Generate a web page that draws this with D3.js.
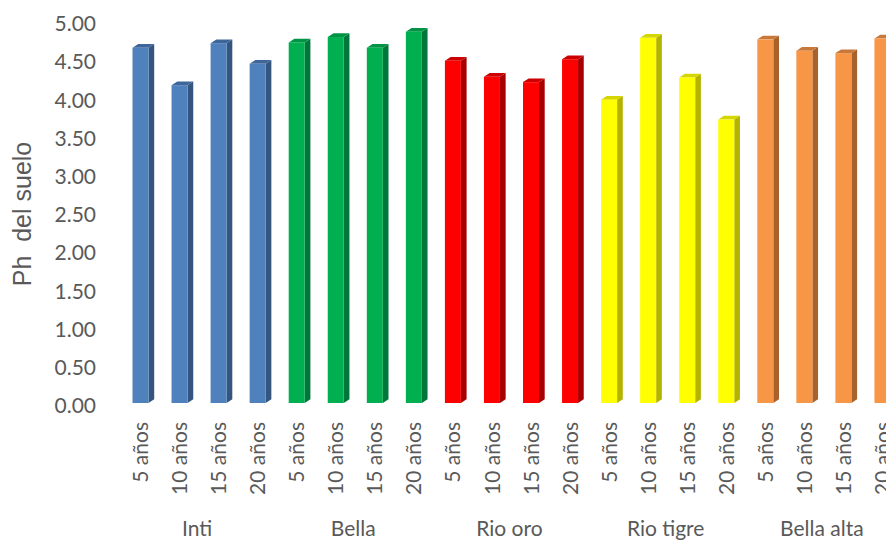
<!DOCTYPE html>
<html>
<head>
<meta charset="utf-8">
<script src="https://cdn.jsdelivr.net/npm/d3@7"></script>
<style>
  html, body { margin: 0; padding: 0; background: #ffffff; }
  svg { display: block; overflow: hidden; }
  text { font-family: Lato, "Open Sans", sans-serif; fill: #595959; }
</style>
</head>
<body>
<svg id="chart" width="886" height="540"></svg>
<script>
// Soil pH by site and plantation age
const sites = ["Inti", "Bella", "Rio oro", "Rio tigre", "Bella alta"];
const ages = ["5 años", "10 años", "15 años", "20 años"];
const inti      = [4.65, 4.16, 4.71, 4.44];
const bella     = [4.72, 4.79, 4.65, 4.86];
const rioOro    = [4.48, 4.27, 4.20, 4.50];
const rioTigre  = [3.97, 4.78, 4.26, 3.71];
const bellaAlta = [4.76, 4.61, 4.58, 4.77];
const yTicks = [0, 0.5, 1, 1.5, 2, 2.5, 3, 3.5, 4, 4.5, 5];

// face colours per site: front, side, top
const frontColors = ["#4F81BD", "#00B050", "#FF0000", "#FFFF00", "#F79646"];
const sideColors  = ["#34557E", "#00773A", "#A80000", "#B3B300", "#A8622C"];
const topColors   = ["#3E6699", "#009444", "#CC0000", "#D5D500", "#C8783A"];

const seriesValues = [inti, bella, rioOro, rioTigre, bellaAlta];

const rows = [];
sites.forEach((s, si) => {
  ages.forEach((a, ai) => {
    rows.push({ key: s + "|" + a, site: s, siteIndex: si, age: a, value: seriesValues[si][ai] });
  });
});

const svg = d3.select("#chart");

const step = 39.05;
const firstCenter = 140.5;
const x = d3.scaleBand()
  .domain(rows.map(d => d.key))
  .range([firstCenter - step / 2, firstCenter - step / 2 + step * rows.length])
  .padding(0);

const y = d3.scaleLinear().domain([0, 5]).range([403, 21]);

// 3D column geometry
const frontW = 16, depthX = 5.7, depthY = 3.7;

const bars = svg.append("g").attr("class", "bars");
const bar = bars.selectAll("g.bar").data(rows).join("g").attr("class", "bar");

bar.each(function (d) {
  const g = d3.select(this);
  const x0 = x(d.key) + x.bandwidth() / 2 - frontW / 2;
  const x1 = x0 + frontW;
  const yt = y(d.value), yb = y(0);
  // side face
  g.append("path")
    .attr("d", `M${x1},${yt}L${x1 + depthX},${yt - depthY}L${x1 + depthX},${yb - depthY}L${x1},${yb}Z`)
    .attr("fill", sideColors[d.siteIndex]);
  // top face
  g.append("path")
    .attr("d", `M${x0},${yt}L${x0 + depthX},${yt - depthY}L${x1 + depthX},${yt - depthY}L${x1},${yt}Z`)
    .attr("fill", topColors[d.siteIndex]);
  // front face
  g.append("rect")
    .attr("x", x0).attr("y", yt)
    .attr("width", frontW).attr("height", yb - yt)
    .attr("fill", frontColors[d.siteIndex]);
});

// value axis
const yAxis = svg.append("g")
  .attr("transform", "translate(96,3)")
  .call(d3.axisLeft(y).tickValues(yTicks).tickFormat(d3.format(".2f")).tickSize(0).tickPadding(0));
yAxis.select(".domain").remove();
yAxis.selectAll("text")
  .style("font-family", "Lato, 'Open Sans', sans-serif")
  .style("font-size", "21px")
  .attr("fill", "#595959");

// category axis: age labels rotated
const xAxis = svg.append("g")
  .attr("transform", `translate(0,${y(0)})`)
  .call(d3.axisBottom(x).tickFormat(k => k.split("|")[1]).tickSize(0));
xAxis.select(".domain").remove();
xAxis.selectAll("text")
  .style("font-family", "Lato, 'Open Sans', sans-serif")
  .style("font-size", "21px")
  .attr("fill", "#595959")
  .attr("transform", "rotate(-90)")
  .attr("text-anchor", "end")
  .attr("x", -19)
  .attr("y", 0)
  .attr("dy", "0.36em");

// site labels under each group of four
svg.append("g").selectAll("text.site").data(sites).join("text")
  .attr("class", "site")
  .attr("x", s => {
    const keys = ages.map(a => s + "|" + a);
    return d3.mean(keys, k => x(k) + x.bandwidth() / 2) - 2;
  })
  .attr("y", 536)
  .attr("text-anchor", "middle")
  .style("font-size", "21px")
  .text(s => s);

// value axis title
svg.append("text")
  .attr("transform", "translate(31,214) rotate(-90)")
  .attr("text-anchor", "middle")
  .style("font-family", "'Liberation Sans', Arial, sans-serif")
  .style("font-size", "25px")
  .attr("xml:space", "preserve")
  .text("Ph  del suelo");
</script>
</body>
</html>
